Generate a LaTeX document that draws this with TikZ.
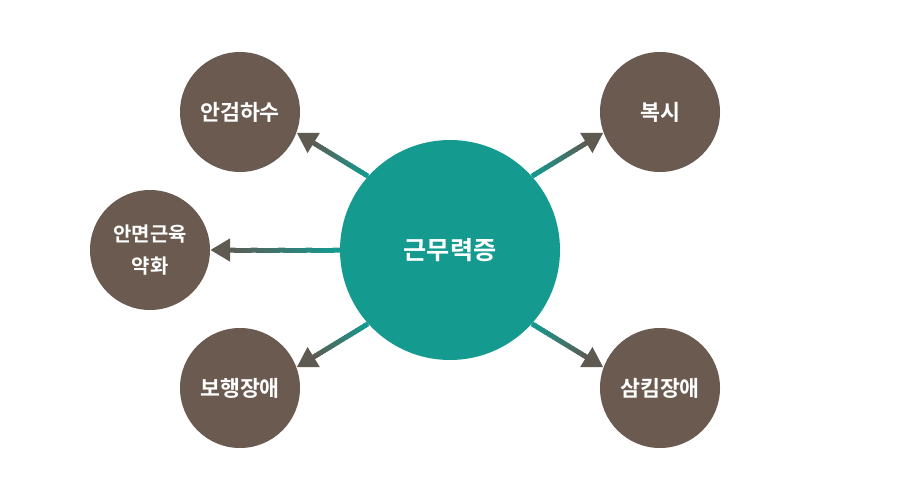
\documentclass[tikz,border=0pt]{standalone}
\usepackage{fontspec}
\newfontfamily\kr{Noto Sans CJK KR}[BoldFont={Noto Sans CJK KR Bold}]
\usetikzlibrary{calc,arrows.meta}
\definecolor{cteal}{HTML}{149A8F}
\definecolor{cbrown}{HTML}{6B5A4F}
\definecolor{carrow}{HTML}{5E5A52}
\newcommand\gradarrow[2]{%
  \coordinate (gs) at (#1);
  \coordinate (ge) at (#2);
  \coordinate (gb) at ($(ge)!0.6cm!(gs)$);
  \foreach \i in {0,...,19}{%
    \pgfmathtruncatemacro\p{100-5*\i}%
    \draw[shaft, color=cteal!\p!carrow] ($(gs)!{\i/20}!(gb)$) -- ($(gs)!{(\i+1.3)/20}!(gb)$);
  }%
  \draw[shaft, carrow, -{Triangle[length=0.6cm,width=0.66cm]}] (gb) -- (ge);
}
\begin{document}
\begin{tikzpicture}[x=0.03cm,y=-0.03cm,
  hub/.style={circle, fill=cteal, minimum size=6.6cm, inner sep=0pt, text=white, font=\kr\bfseries\fontsize{21.5}{26}\selectfont},
  leaf/.style={circle, fill=cbrown, minimum size=3.6cm, inner sep=0pt, text=white, align=center, font=\kr\bfseries\fontsize{18.5}{28}\selectfont},
  smallleaf/.style={leaf, font=\kr\bfseries\fontsize{17}{28}\selectfont},
  shaft/.style={line width=0.15cm}]
\useasboundingbox (0,0) rectangle (900,500);
\node[hub] (c) at (450,250) {근무력증};
\node[leaf] (a) at (240,112) {안검하수};
\node[leaf] (b) at (660,112) {복시};
\node[smallleaf] (l) at (150,250) {안면근육\\약화};
\node[leaf] (d) at (240,388) {보행장애};
\node[leaf] (e) at (660,388) {삼킴장애};
\gradarrow{c.138}{a.-20}
\gradarrow{c.42}{b.200}
\gradarrow{c.180}{l.0}
\gradarrow{c.222}{d.20}
\gradarrow{c.-42}{e.160}
\end{tikzpicture}
\end{document}
